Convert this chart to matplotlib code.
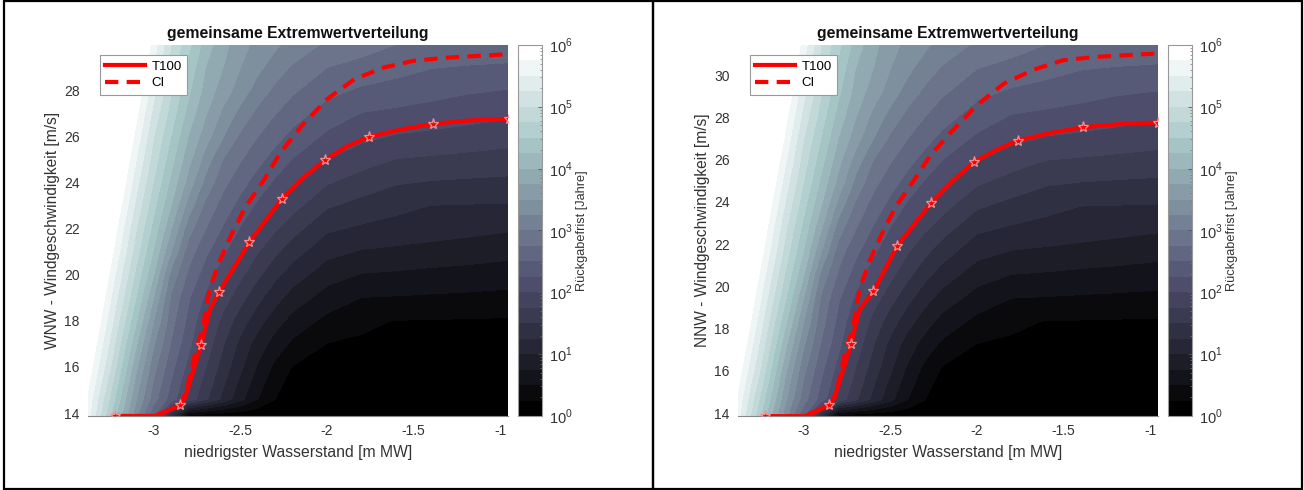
import numpy as np
import matplotlib.pyplot as plt
from matplotlib.colors import ListedColormap
from matplotlib.patches import Rectangle
from matplotlib.ticker import FixedLocator

plt.rcParams['font.family'] = ['Liberation Sans', 'DejaVu Sans']
plt.rcParams['mathtext.fontset'] = 'custom'
plt.rcParams['mathtext.rm'] = 'Liberation Sans'
plt.rcParams['axes.unicode_minus'] = False

# return period field, log10(years)
wl_grid = [-3.38, -3.25, -3.1, -3.0, -2.9, -2.8, -2.7, -2.6, -2.5, -2.4,
           -2.3, -2.2, -2.0, -1.8, -1.6, -1.4, -1.2, -0.95]
ws_wnw = [13.85, 14.6, 16, 17, 18, 19, 20, 21, 22, 23, 24, 25, 26, 27, 28, 29, 30]
ws_nnw = [13.85, 14.65, 16.2, 17.27, 18.35, 19.43, 20.5, 21.6, 22.7, 23.78, 24.85,
          25.93, 27.0, 28.1, 29.2, 30.3, 31.45]
log_rp = [
    [5.6, 4.5, 3.3, 2.5, 1.2, 0.1, 0.03, 0.02, 0.02, 0.02, 0.02, 0.02, 0.02, 0.02, 0.02, 0.02, 0.02, 0.02],
    [5.68, 4.69, 3.5, 2.85, 2.38, 1.92, 1.54, 1.18, 0.82, 0.5, 0.25, 0.12, 0.08, 0.06, 0.05, 0.05, 0.04, 0.04],
    [5.92, 5.01, 3.79, 3.08, 2.58, 2.17, 1.75, 1.39, 1.05, 0.72, 0.44, 0.24, 0.18, 0.15, 0.13, 0.12, 0.11, 0.10],
    [6.08, 5.19, 4.02, 3.28, 2.73, 2.32, 1.90, 1.52, 1.18, 0.88, 0.64, 0.45, 0.244, 0.228, 0.212, 0.196, 0.18, 0.16],
    [6.25, 5.36, 4.26, 3.5, 2.85, 2.43, 2.03, 1.67, 1.37, 1.10, 0.86, 0.66, 0.43, 0.28, 0.244, 0.237, 0.23, 0.22],
    [6.4, 5.52, 4.48, 3.74, 2.96, 2.53, 2.2, 1.87, 1.585, 1.32, 1.09, 0.89, 0.64, 0.496, 0.48, 0.463, 0.447, 0.426],
    [6.56, 5.68, 4.67, 4.0, 3.16, 2.70, 2.375, 2.09, 1.81, 1.55, 1.31, 1.13, 0.85, 0.734, 0.71, 0.68, 0.66, 0.625],
    [6.72, 5.85, 4.85, 4.22, 3.5, 2.865, 2.55, 2.29, 2.04, 1.76, 1.55, 1.35, 1.08, 0.976, 0.94, 0.904, 0.869, 0.824],
    [6.86, 6.0, 5.0, 4.4, 3.77, 3.1, 2.75, 2.47, 2.23, 2.0, 1.78, 1.60, 1.29, 1.21, 1.17, 1.12, 1.08, 1.03],
    [7.01, 6.16, 5.17, 4.57, 4.0, 3.39, 2.93, 2.645, 2.41, 2.20, 2.02, 1.84, 1.53, 1.41, 1.31, 1.246, 1.237, 1.225],
    [7.17, 6.32, 5.33, 4.73, 4.18, 3.65, 3.16, 2.82, 2.59, 2.39, 2.21, 2.06, 1.77, 1.64, 1.52, 1.48, 1.46, 1.44],
    [7.31, 6.46, 5.49, 4.87, 4.34, 3.83, 3.38, 2.99, 2.77, 2.57, 2.40, 2.24, 2.0, 1.85, 1.74, 1.71, 1.68, 1.645],
    [7.45, 6.61, 5.65, 5.0, 4.49, 3.99, 3.61, 3.26, 2.95, 2.75, 2.58, 2.43, 2.20, 2.06, 1.976, 1.94, 1.90, 1.85],
    [7.6, 6.76, 5.8, 5.16, 4.64, 4.15, 3.77, 3.44, 3.17, 2.93, 2.76, 2.61, 2.39, 2.24, 2.195, 2.149, 2.103, 2.045],
    [7.74, 6.91, 5.96, 5.32, 4.77, 4.30, 3.90, 3.63, 3.38, 3.14, 2.94, 2.79, 2.57, 2.46, 2.40, 2.34, 2.28, 2.24],
    [7.87, 7.05, 6.1, 5.47, 4.88, 4.43, 3.99, 3.75, 3.5, 3.31, 3.13, 2.97, 2.75, 2.67, 2.59, 2.51, 2.48, 2.457],
    [8.0, 7.2, 6.25, 5.63, 5.0, 4.57, 4.13, 3.83, 3.6, 3.42, 3.30, 3.16, 2.96, 2.85, 2.75, 2.72, 2.70, 2.67],
]

# T100 curves and confidence bounds
t100_x_wnw = [-3.226, -2.994, -2.849, -2.821, -2.727, -2.677, -2.623, -2.448, -2.262,
              -2.14, -2.012, -1.89, -1.761, -1.577, -1.386, -1.17, -0.951]
t100_y_wnw = [13.87, 13.87, 14.33, 14.64, 16.95, 18.48, 19.25, 21.42, 23.29,
              24.2, 24.97, 25.55, 25.97, 26.3, 26.55, 26.70, 26.77]
t100_x_nnw = [-3.223, -2.994, -2.856, -2.825, -2.727, -2.68, -2.598, -2.46, -2.264,
              -2.14, -2.016, -1.89, -1.766, -1.58, -1.391, -1.17, -0.958]
t100_y_nnw = [13.86, 13.86, 14.38, 14.7, 17.26, 18.9, 19.76, 21.93, 23.96,
              25.0, 25.89, 26.45, 26.90, 27.25, 27.53, 27.68, 27.75]
star_idx = [0, 2, 4, 6, 7, 8, 10, 12, 14, 16]

ci_x = [-3.226, -2.994, -2.849, -2.811, -2.769, -2.716, -2.677, -2.619, -2.543, -2.471,
        -2.366, -2.270, -2.148, -2.002, -1.844, -1.674, -1.504, -1.309, -0.96]
ci_y_wnw = [13.87, 13.87, 14.33, 15.0, 16.38, 17.75, 19.42, 20.62, 21.88, 22.94,
            24.10, 25.29, 26.45, 27.61, 28.48, 28.99, 29.28, 29.42, 29.57]
ci_y_nnw = [13.86, 13.86, 14.36, 15.09, 16.6, 18.09, 19.92, 21.23, 22.6, 23.76,
            25.0, 26.2, 27.32, 28.57, 29.6, 30.25, 30.7, 30.86, 31.02]

x_ticks = [-3, -2.5, -2, -1.5, -1]
x_ticklabels = ['-3', '-2.5', '-2', '-1.5', '-1']
cb_ticks = [0, 1, 2, 3, 4, 5, 6]

levels = np.arange(0, 6.01, 0.25)
cmap = ListedColormap(plt.cm.bone(np.linspace(0, 1, 24)))
txt = '#333333'

W, H = 1304, 490
fig = plt.figure(figsize=(W / 100, H / 100), dpi=100)


def panel(x0, ws, ylabel, ylim, yticks, t_x, t_y, c_y):
    ax = fig.add_axes([x0 / W, 74 / H, 420 / W, 371 / H])
    cax = fig.add_axes([(x0 + 430) / W, 74 / H, 24 / W, 371 / H])

    cf = ax.contourf(wl_grid, ws, np.array(log_rp), levels=levels, cmap=cmap,
                     vmin=0, vmax=6, antialiased=False)
    ax.plot(t_x, t_y, color='red', lw=3, label='T100', zorder=3)
    ax.plot(ci_x, c_y, color='red', lw=3, ls=(0, (3.2, 2.0)), label='CI', zorder=3)
    ax.plot(np.array(t_x)[star_idx], np.array(t_y)[star_idx], ls='none', marker='*',
            ms=8, mfc='none', mec='#ff8c8c', mew=0.9, zorder=4)

    ax.set_xlim(-3.38, -0.956)
    ax.set_ylim(*ylim)
    ax.set_xticks(x_ticks)
    ax.set_xticklabels(x_ticklabels)
    ax.set_yticks(yticks)
    ax.tick_params(length=0, labelsize=10, labelcolor=txt, pad=6)
    for s in ['top', 'right', 'left']:
        ax.spines[s].set_visible(False)
    ax.spines['bottom'].set_color('#888888')
    ax.spines['bottom'].set_linewidth(0.8)

    ax.set_title('gemeinsame Extremwertverteilung', fontsize=11.3, fontweight='bold',
                 color='#111111', pad=5)
    ax.set_xlabel('niedrigster Wasserstand [m MW]', fontsize=11.3, color=txt, labelpad=5)
    ax.set_ylabel(ylabel, fontsize=11.2, color=txt, labelpad=3)

    leg = ax.legend(loc='upper left', bbox_to_anchor=(0.0286, 0.973), borderaxespad=0,
                    fontsize=9.5, handlelength=3.0, handletextpad=0.5, borderpad=0.4,
                    labelspacing=0.35, fancybox=False, framealpha=1)
    leg.get_frame().set_edgecolor('#999999')
    leg.get_frame().set_linewidth(0.8)

    cb = fig.colorbar(cf, cax=cax)
    cb.set_ticks(cb_ticks)
    cb.set_ticklabels(['$10^{%d}$' % n for n in cb_ticks])
    minor = [n + np.log10(k) for n in range(6) for k in range(2, 10)]
    cax.yaxis.set_minor_locator(FixedLocator(minor))
    cax.tick_params(which='major', direction='in', length=3, width=0.6,
                    color='#555555', labelsize=10.5, labelcolor=txt, pad=5)
    cax.tick_params(which='minor', direction='in', length=1.5, width=0.5, color='#777777')
    cb.outline.set_edgecolor('#999999')
    cb.outline.set_linewidth(0.8)
    cb.set_label('Rückgabefrist [Jahre]', fontsize=9.2, color=txt, labelpad=2)


panel(88, ws_wnw, 'WNW - Windgeschwindigkeit [m/s]', (13.87, 29.97),
      [14, 16, 18, 20, 22, 24, 26, 28], t100_x_wnw, t100_y_wnw, ci_y_wnw)
panel(738, ws_nnw, 'NNW - Windgeschwindigkeit [m/s]', (13.87, 31.42),
      [14, 16, 18, 20, 22, 24, 26, 28, 30], t100_x_nnw, t100_y_nnw, ci_y_nnw)

# table-like frames around the two panels
for x_left, x_right in [(4, 653), (653, 1302)]:
    fig.add_artist(Rectangle((x_left / W, 1.5 / H), (x_right - x_left) / W, 487 / H,
                             transform=fig.transFigure, fill=False, ec='black', lw=1.6))

fig.savefig('out.png', dpi=100)
